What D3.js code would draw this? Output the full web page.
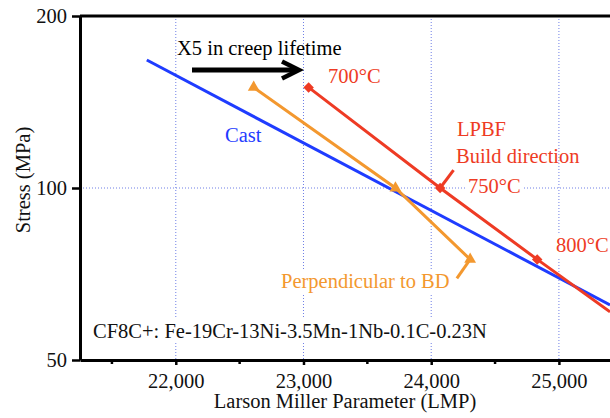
<!DOCTYPE html>
<html>
<head>
<meta charset="utf-8">
<script src="https://cdn.jsdelivr.net/npm/d3@7"></script>
<style>
  html, body { margin: 0; padding: 0; background: #fff; }
  svg { display: block; font-family: "Liberation Serif", "Times New Roman", serif; }
</style>
</head>
<body>
<svg id="chart" width="610" height="418"></svg>
<script>
// Larson-Miller parameter vs. creep stress for CF8C+ steel
const xTicks = [22000, 23000, 24000, 25000];
const xMinorTicks = [21500, 22500, 23500, 24500];
const yTicks = [50, 100, 200];

// Cast alloy fit line
const castLMP = [21773, 25400];
const castStress = [167.5, 62.4];

// LPBF, loaded along build direction (700, 750, 800 °C) plus fit tail
const lpbfLMP = [23040, 24070, 24830];
const lpbfStress = [150, 100, 75];
const lpbfTailLMP = [24830, 25400];
const lpbfTailStress = [75, 60.7];

// LPBF, loaded perpendicular to build direction
const perpLMP = [22610, 23720, 24305];
const perpStress = [150, 100, 75];

const colors = { cast: "#1f3cff", lpbf: "#ee3b24", perp: "#f3982f", grid: "#6f7fe6" };
const fontSize = 20.5;

const svg = d3.select("#chart");
const plotLeft = 80, plotRight = 610, plotTop = 16, plotBottom = 360;

const x = d3.scaleLinear().domain([21250, 25400]).range([plotLeft, plotRight]);
const y = d3.scaleLog().domain([50, 200]).range([plotBottom, plotTop]);

svg.append("defs").append("clipPath").attr("id", "plot")
  .append("rect").attr("x", plotLeft).attr("y", plotTop)
  .attr("width", plotRight - plotLeft).attr("height", plotBottom - plotTop);

// dotted grid
const grid = svg.append("g").attr("stroke", colors.grid).attr("stroke-width", 1).attr("stroke-dasharray", "1,2");
grid.selectAll("line.v").data(xTicks).join("line")
  .attr("x1", d => x(d)).attr("x2", d => x(d)).attr("y1", plotTop).attr("y2", plotBottom);
grid.append("line").attr("x1", plotLeft).attr("x2", plotRight).attr("y1", y(100)).attr("y2", y(100));

const plot = svg.append("g").attr("clip-path", "url(#plot)");
const line = d3.line().x(d => x(d[0])).y(d => y(d[1]));

// text labels, with a white backing where they sit on the grid
function label(txt, px, py, color, backed) {
  const g = svg.append("g");
  const t = g.append("text").attr("x", px).attr("y", py).attr("fill", color)
    .attr("font-size", fontSize).text(txt);
  if (backed) {
    const b = t.node().getBBox();
    g.insert("rect", "text").attr("x", b.x - 2).attr("y", b.y - 1)
      .attr("width", b.width + 4).attr("height", b.height + 2).attr("fill", "#fff");
  }
  return g;
}

label("CF8C+: Fe-19Cr-13Ni-3.5Mn-1Nb-0.1C-0.23N", 93, 338, "#111", true);
label("750°C", 468, 193, colors.lpbf, true);
label("800°C", 556, 252, colors.lpbf, true);
label("Perpendicular to BD", 281, 288, colors.perp, true);

// cast line
plot.append("path").datum(d3.zip(castLMP, castStress)).attr("d", line)
  .attr("fill", "none").attr("stroke", colors.cast).attr("stroke-width", 3);

// perpendicular-to-BD line
plot.append("path").datum(d3.zip(perpLMP, perpStress)).attr("d", line)
  .attr("fill", "none").attr("stroke", colors.perp).attr("stroke-width", 3);

// LPBF build-direction line
plot.append("path").datum(d3.zip(lpbfLMP, lpbfStress).concat(d3.zip(lpbfTailLMP, lpbfTailStress).slice(1)))
  .attr("d", line).attr("fill", "none").attr("stroke", colors.lpbf).attr("stroke-width", 3);

// leader lines
const lpbfLeader = [[24070, 100], [24175, 107.5]];
const perpLeader = [[24305, 75], [24201, 69.5]];
plot.append("path").datum(lpbfLeader).attr("d", line).attr("fill", "none")
  .attr("stroke", colors.lpbf).attr("stroke-width", 3);
plot.append("path").datum(perpLeader).attr("d", line).attr("fill", "none")
  .attr("stroke", colors.perp).attr("stroke-width", 3);

plot.selectAll("path.tri").data(d3.zip(perpLMP, perpStress)).join("path").attr("class", "tri")
  .attr("transform", d => `translate(${x(d[0])},${y(d[1])})`)
  .attr("d", d3.symbol(d3.symbolTriangle, 60)).attr("fill", colors.perp);

plot.selectAll("path.dia").data(d3.zip(lpbfLMP, lpbfStress)).join("path").attr("class", "dia")
  .attr("transform", d => `translate(${x(d[0])},${y(d[1])}) rotate(45)`)
  .attr("d", d3.symbol(d3.symbolSquare, 55)).attr("fill", colors.lpbf);

// remaining labels
label("Cast", 225, 142, colors.cast, false);
label("700°C", 328, 83, colors.lpbf, false);
label("LPBF", 457, 136, colors.lpbf, false);
label("Build direction", 456, 163, colors.lpbf, false);
label("X5 in creep lifetime", 177, 55, "#000", false);

// arrow
svg.append("line").attr("x1", 192).attr("x2", 296).attr("y1", 70).attr("y2", 70)
  .attr("stroke", "#000").attr("stroke-width", 5);
svg.append("path").attr("d", "M282,61.5L299,70L282,78.5").attr("fill", "none")
  .attr("stroke", "#000").attr("stroke-width", 4.5).attr("stroke-linejoin", "miter");

// axes
const xAxis = d3.axisBottom(x).tickValues(xTicks).tickFormat(d3.format(",")).tickSize(5).tickSizeOuter(0).tickPadding(8);
const gx = svg.append("g").attr("transform", `translate(0,${plotBottom})`).call(xAxis);
gx.selectAll(".tick line").attr("stroke-width", 2.5);
gx.selectAll("line.minor").data(xMinorTicks).join("line").attr("class", "minor")
  .attr("x1", d => x(d)).attr("x2", d => x(d)).attr("y1", 0).attr("y2", 4)
  .attr("stroke", "#000").attr("stroke-width", 2.5);

const yAxis = d3.axisLeft(y).tickValues(yTicks).tickFormat(d3.format("d")).tickSize(8).tickSizeOuter(0).tickPadding(5);
const gy = svg.append("g").attr("transform", `translate(${plotLeft},0)`).call(yAxis);
gy.selectAll(".tick line").attr("stroke-width", 2.5);

[gx, gy].forEach(g => {
  g.select(".domain").attr("stroke-width", 3);
  g.selectAll("text").attr("font-size", fontSize).attr("font-family", "Liberation Serif").attr("fill", "#111");
});

// top frame
svg.append("line").attr("x1", plotLeft).attr("x2", plotRight).attr("y1", plotTop).attr("y2", plotTop)
  .attr("stroke", "#000").attr("stroke-width", 3);

// axis titles
svg.append("text").attr("x", 345).attr("y", 408).attr("text-anchor", "middle")
  .attr("font-size", fontSize).attr("fill", "#111").text("Larson Miller Parameter (LMP)");
svg.append("text").attr("transform", "translate(30,180) rotate(-90)").attr("text-anchor", "middle")
  .attr("font-size", fontSize).attr("fill", "#111").text("Stress (MPa)");
</script>
</body>
</html>
